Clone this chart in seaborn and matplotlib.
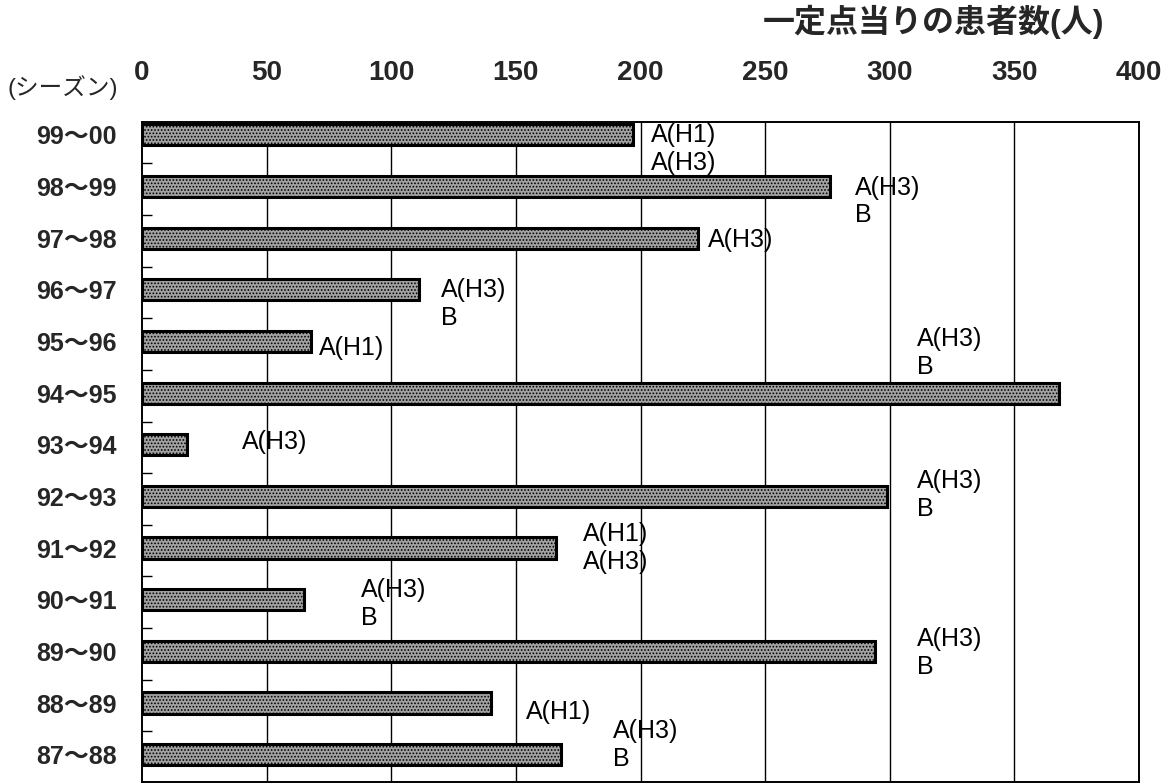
import matplotlib
matplotlib.use("Agg")
import matplotlib.pyplot as plt
import seaborn as sns
import pandas as pd
from matplotlib.ticker import FixedLocator

# ---- data ----
seasons = ["99～00", "98～99", "97～98", "96～97", "95～96", "94～95", "93～94",
           "92～93", "91～92", "90～91", "89～90", "88～89", "87～88"]
patients = [197, 276, 223, 111, 68, 368, 18, 299, 166, 65, 294, 140, 168]
virus_labels = [["A(H1)", "A(H3)"], ["A(H3)", "B"], ["A(H3)"], ["A(H3)", "B"],
                ["A(H1)"], ["A(H3)", "B"], ["A(H3)"], ["A(H3)", "B"],
                ["A(H1)", "A(H3)"], ["A(H3)", "B"], ["A(H3)", "B"],
                ["A(H1)"], ["A(H3)", "B"]]
x_ticks = [0, 50, 100, 150, 200, 250, 300, 350, 400]
x_title = "一定点当りの患者数(人)"
y_title = "(シーズン)"

# ---- layout of annotation text (x in data units, y of first line in category units) ----
label_pos = [(204, 0.0), (286, 1.02), (227, 2.03), (120, 3.0), (71, 4.12),
             (311, 3.96), (40, 5.95), (311, 6.7), (177, 7.73), (88, 8.81),
             (311, 9.76), (154, 11.17), (189, 11.54)]
line_step = 0.54

sns.set_theme(style="white")
plt.rcParams["font.family"] = ["Liberation Sans", "Noto Sans CJK JP", "DejaVu Sans"]
plt.rcParams["hatch.color"] = "#404040"
plt.rcParams["hatch.linewidth"] = 0.8

df = pd.DataFrame({"season": seasons, "patients": patients})

fig = plt.figure(figsize=(11.68, 7.83), dpi=100)
ax = fig.add_axes([142 / 1168, 1.5 / 783, (1139 - 142) / 1168, (783 - 122 - 1.5) / 783])

sns.barplot(data=df, x="patients", y="season", orient="h", order=seasons,
            color="#a2a2a2", width=0.41, edgecolor="black", linewidth=2.2,
            saturation=1, ax=ax, zorder=3)
for p in ax.patches:
    p.set_hatch(".....")
    p.set_zorder(3)

ax.set_xlim(0, 400)
ax.set_ylim(12.52, -0.25)

# x axis on top
ax.xaxis.set_ticks_position("top")
ax.xaxis.set_label_position("top")
ax.set_xticks(x_ticks)
ax.set_xticklabels([str(t) for t in x_ticks])
ax.tick_params(axis="x", which="major", length=0, pad=26, labelsize=20, top=True, bottom=False)
for lab in ax.get_xticklabels():
    lab.set_fontweight("bold")

# vertical grid lines
for t in x_ticks[1:-1]:
    ax.axvline(t, color="black", lw=1.0, zorder=2)

# y ticks
ax.tick_params(axis="y", which="major", length=0, pad=18, labelsize=18)
for lab in ax.get_yticklabels():
    lab.set_fontweight("bold")
ax.yaxis.set_minor_locator(FixedLocator([i + 0.55 for i in range(len(seasons) - 1)]))
ax.tick_params(axis="y", which="minor", direction="in", length=7, width=1, left=True, color="black")

ax.set_xlabel("")
ax.set_ylabel("")
for s in ax.spines.values():
    s.set_visible(True)
    s.set_color("black")
    s.set_linewidth(1.4)

# annotations
for lines, (lx, ly) in zip(virus_labels, label_pos):
    for k, txt in enumerate(lines):
        ax.text(lx, ly + k * line_step, txt, fontsize=18, va="center", ha="left",
                color="black", zorder=4)

fig.text(934 / 1168, 1 - 22 / 783, x_title, fontsize=23, ha="center", va="center",
         fontweight="bold")
fig.text(63 / 1168, 1 - 88 / 783, y_title, fontsize=17, ha="center", va="center")

fig.savefig("out.png", dpi=100)
